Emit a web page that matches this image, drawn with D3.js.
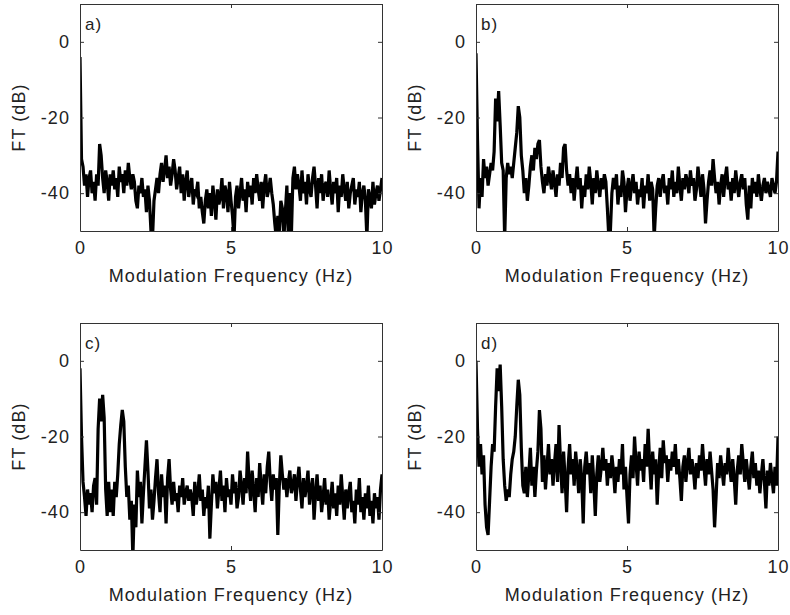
<!DOCTYPE html>
<html>
<head>
<meta charset="utf-8">
<script src="https://cdn.jsdelivr.net/npm/d3@7"></script>
<style>
body { margin: 0; background: #fff; }
svg text { font-family: "Liberation Sans", Arial, sans-serif; font-size: 18px; fill: #222; letter-spacing: 1.1px; }
</style>
</head>
<body>
<svg id="fig" width="790" height="615"></svg>
<script>

// spectra, dB, 0..10 Hz evenly spaced
const specA = [-4,-31,-33,-38,-35,-41,-36,-34,-40,-37,-42,-35,-38,-27,-30,
  -36,-40,-34,-37,-42,-35,-38,-34,-39,-36,-41,-33,-37,-35,-40,-34,-38,-32,-36,-39,-35,-37,-42,-44,-38,-40,-36,-41,-39,-45,-38,-42,
  -50,-52,
  -42,-39,-36,-40,-35,-32,-37,-34,-30,-36,-33,-38,-35,-31,
  -34,-39,-36,-33,-40,-35,-42,-37,-34,-41,-38,-36,-43,-39,-40,-37,-44,-41,
  -45,-48,-42,-39,-44,-40,-46,-38,-42,-47,-39,-43,-41,-36,-44,-38,-40,-45,-37,-42,-46,-52,
  -41,-38,-44,-40,-36,-42,-39,-45,-37,-41,-38,-43,-36,-40,-35,-39,-42,-37,-44,-38,-35,-41,-39,-36,-40,-43,
  -48,-52,-46,-50,-42,-44,-52,-45,
  -38,-52,-40,-51,-36,-33,-39,-35,
  -38,-42,-34,-40,-37,-43,-35,-39,-41,-36,-33,-38,-44,-36,-40,-35,-42,-38,-37,-41,
  -34,-39,-43,-37,-40,-36,-45,-38,-41,-35,-39,-42,-37,-44,-40,-38,-36,-43,-39,-41,
  -37,-45,-40,-38,-42,-52,-39,-41,-44,-37,-43,-40,-38,-42,-39,-36];

const specB = [-3,-26,-44,-36,-41,-31,-36,-33,-38,-35,-32,-34,-29,-15,-21,-13,-22,-32,-34,-52,
  -36,-32,-35,-33,-36,-32,-28,-24,-17,-20,-30,-34,-40,-36,-42,-38,-33,-30,-34,-28,
  -31,-27,-26,-33,-37,-40,-35,-38,-33,-36,-39,-34,-37,-41,-35,-38,-32,-36,-28,-27,
  -34,-38,-35,-40,-36,-42,-37,-33,-39,-36,-44,-38,-41,-35,-39,-33,-37,-43,-36,-40,
  -34,-38,-41,-36,-39,-35,-37,-44,-52,-50,-40,-36,-39,-35,-43,-38,-41,-34,-37,-45,
  -39,-36,-42,-38,-35,-40,-37,-43,-39,-41,-36,-44,-38,-40,-35,-42,-37,-39,-52,-44,
  -38,-36,-41,-37,-35,-40,-38,-43,-36,-39,-34,-41,-37,-40,-33,-38,-42,-36,-39,-35,
  -37,-40,-34,-38,-36,-42,-39,-33,-37,-41,-35,-39,-48,-42,-37,-34,-38,-31,-36,-40,
  -37,-43,-38,-35,-41,-36,-33,-39,-37,-42,-36,-40,-34,-38,-41,-37,-35,-39,-36,-43,
  -47,-38,-44,-36,-40,-37,-41,-35,-39,-42,-38,-36,-40,-37,-39,-41,-36,-38,-40,-37,-29];

const specC = [-2,-20,-32,-36,-41,-34,-38,-35,-40,-33,-31,-38,-18,-10,-16,-9,-15,-34,-41,-32,
  -40,-34,-41,-32,-36,-30,-22,-17,-13,-16,-28,-36,-33,-42,-37,-52,-38,-44,-29,-36,
  -32,-43,-35,-28,-21,-29,-39,-34,-42,-37,-31,-26,-35,-40,-30,-36,-33,-43,-31,-26,
  -34,-38,-32,-37,-35,-40,-33,-36,-31,-38,-35,-33,-37,-34,-36,-41,-32,-38,-35,-30,
  -37,-34,-41,-36,-39,-33,-47,-38,-30,-35,-32,-39,-34,-29,-37,-33,-40,-31,-36,-34,
  -38,-30,-35,-32,-39,-36,-29,-33,-38,-31,-35,-24,-32,-37,-29,-34,-40,-31,-36,-27,
  -33,-38,-30,-35,-28,-24,-32,-37,-30,-34,-31,-46,-33,-25,-30,-34,-31,-36,-32,-29,
  -35,-33,-30,-37,-32,-28,-34,-39,-31,-36,-33,-29,-38,-34,-31,-42,-35,-30,-37,-33,
  -40,-36,-31,-38,-34,-42,-37,-32,-39,-35,-41,-33,-38,-30,-36,-42,-34,-39,-35,-32,
  -40,-37,-43,-34,-38,-31,-40,-36,-42,-35,-39,-33,-41,-37,-43,-35,-39,-36,-42,-34,-30];

const specD = [0,-18,-28,-22,-30,-25,-38,-44,-46,-37,-28,-22,-24,-12,-2,-8,-1,-12,-26,-33,
  -37,-34,-36,-30,-26,-24,-20,-12,-5,-9,-23,-33,-35,-28,-36,-30,-23,-33,-28,-36,
  -29,-24,-13,-18,-32,-25,-34,-28,-22,-30,-26,-33,-27,-22,-32,-17,-27,-35,-24,-31,
  -40,-28,-22,-30,-26,-33,-24,-29,-35,-26,-31,-43,-28,-24,-30,-27,-35,-25,-32,-41,
  -30,-25,-32,-28,-23,-29,-26,-33,-27,-31,-25,-29,-35,-28,-32,-26,-30,-22,-34,-28,
  -36,-43,-30,-25,-31,-20,-27,-33,-24,-29,-26,-32,-22,-28,-18,-27,-34,-24,-30,-26,
  -38,-29,-23,-31,-21,-27,-25,-32,-26,-29,-24,-28,-22,-30,-26,-31,-37,-28,-25,-32,
  -27,-23,-30,-26,-29,-34,-27,-31,-25,-29,-22,-28,-33,-26,-30,-24,-29,-34,-44,-36,
  -27,-31,-25,-29,-33,-27,-30,-23,-28,-32,-26,-31,-38,-29,-25,-30,-22,-27,-32,-26,
  -30,-34,-28,-24,-31,-27,-33,-29,-35,-30,-26,-32,-39,-29,-33,-27,-31,-35,-28,-33,-20];

const panelNames = ["a)", "b)", "c)", "d)"];
const xTicks = [0, 5, 10];
const yTicks = [-40, -20, 0];
const xLabel = "Modulation Frequency (Hz)";
const yLabel = "FT (dB)";

const spectra = [specA, specB, specC, specD];

const svg = d3.select("#fig");
const pw = 302, ph = 227;
const origins = [[80, 4], [476, 4], [80, 323], [476, 323]];

// plain hyphen like the original, not the unicode minus
const fmt = d => String(d);

spectra.forEach((vals, k) => {
    const [ox, oy] = origins[k];
    const g = svg.append("g").attr("transform", `translate(${ox},${oy})`);

    const x = d3.scaleLinear().domain([0, 10]).range([0, pw]);
    const y = d3.scaleLinear().domain([-50, 10]).range([ph, 0]);
    const n = vals.length;

    g.append("clipPath").attr("id", "clip" + k)
        .append("rect").attr("width", pw).attr("height", ph);

    const line = d3.line()
        .x((d, i) => x(i * 10 / (n - 1)))
        .y(d => y(d));

    g.append("path")
        .datum(vals)
        .attr("clip-path", `url(#clip${k})`)
        .attr("d", line)
        .attr("fill", "none")
        .attr("stroke", "#000")
        .attr("stroke-width", 3.2);

    // box + inward ticks, matlab style
    const tk = 4;
    g.append("g").attr("transform", `translate(0,${ph})`)
        .call(d3.axisBottom(x).tickValues(xTicks).tickFormat(fmt).tickSizeInner(-tk).tickSizeOuter(0).tickPadding(10));
    g.append("g")
        .call(d3.axisTop(x).tickValues(xTicks).tickSizeInner(-tk).tickSizeOuter(0).tickFormat(""));
    g.append("g")
        .call(d3.axisLeft(y).tickValues(yTicks).tickFormat(fmt).tickSizeInner(-tk).tickSizeOuter(0).tickPadding(10));
    g.append("g").attr("transform", `translate(${pw},0)`)
        .call(d3.axisRight(y).tickValues(yTicks).tickSizeInner(-tk).tickSizeOuter(0).tickFormat(""));

    g.selectAll(".domain").attr("stroke", "#333");
    g.selectAll(".tick line").attr("stroke", "#333");
    g.selectAll(".tick text").attr("font-size", null).style("font-size", "18px")
        .style("font-family", '"Liberation Sans", Arial, sans-serif').attr("fill", "#222");

    g.append("text")
        .attr("x", 5).attr("y", 26)
        .style("font-size", "17px")
        .text(panelNames[k]);

    g.append("text")
        .attr("x", pw / 2).attr("y", ph + 51)
        .attr("text-anchor", "middle")
        .text(xLabel);

    g.append("text")
        .attr("transform", `translate(-55,${ph / 2}) rotate(-90)`)
        .attr("text-anchor", "middle")
        .text(yLabel);
});

</script>
</body>
</html>
